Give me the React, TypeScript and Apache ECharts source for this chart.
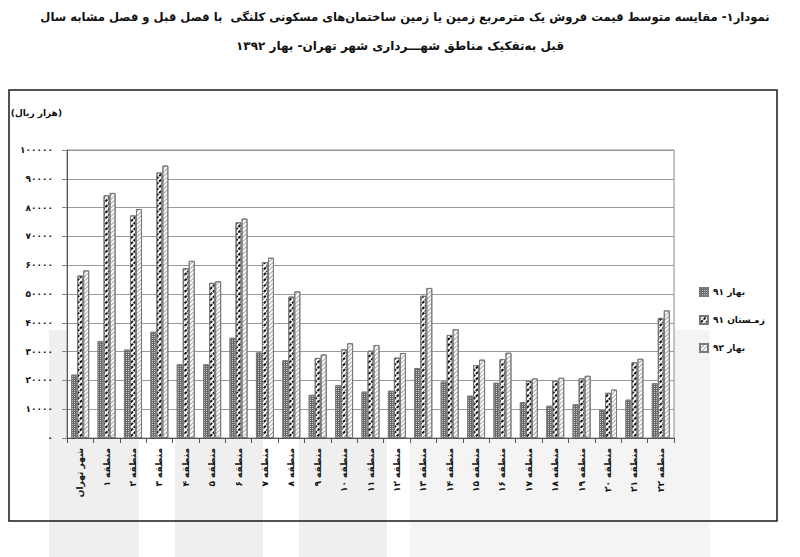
import React, { useEffect, useRef } from "react";
import * as echarts from "echarts";

const toFa = (v: string | number) =>
  String(v).replace(/\d/g, (d) => "۰۱۲۳۴۵۶۷۸۹"[Number(d)]);

const titleLine1 =
  "نمودار۱- مقایسه متوسط قیمت فروش یک مترمربع زمین یا زمین ساختمان‌های مسکونی کلنگی  با فصل قبل و فصل مشابه سال";
const titleLine2 = "قبل به‌تفکیک مناطق شهـــرداری شهر تهران- بهار ۱۳۹۲";
const unitLabel = "(هزار ریال)";

const categories = [
  "شهر تهران",
  ...Array.from({ length: 22 }, (_, i) => "منطقه " + toFa(i + 1)),
];

const seriesNames = ["بهار ۹۱", "زمـستان ۹۱", "بهار ۹۲"];

const spring91 = [
  22000, 33700, 30700, 36900, 25600, 25600, 34800, 29700, 27000, 15000, 18300,
  16100, 16400, 24300, 19600, 14700, 19200, 12400, 11200, 11700, 9700, 13300,
  19000,
];
const winter91 = [
  56400, 84300, 77300, 92200, 59000, 53900, 74900, 61100, 49100, 27800, 30800,
  30300, 27900, 49400, 35800, 25300, 27400, 19900, 19800, 20700, 15700, 26300,
  41700,
];
const spring92 = [
  58200, 85100, 79500, 94600, 61500, 54400, 76200, 62600, 50900, 29000, 32900,
  32300, 29500, 52100, 37800, 27200, 29600, 20700, 20900, 21600, 16800, 27500,
  44300,
];

const yMin = 0;
const yMax = 100000;
const yInterval = 10000;

const FONT = "DejaVu Sans";

export default function App() {
  const ref = useRef<HTMLDivElement>(null);
  useEffect(() => {
    if (!ref.current) return;
    const chart = echarts.init(ref.current, undefined, { renderer: "svg" });
    const border = { borderColor: "#7a7a7a", borderWidth: 1 };
    const bands = [
      [49, 90],
      [175, 88],
      [299, 88],
    ];
    chart.setOption({
      animation: false,
      backgroundColor: "#ffffff",
      graphic: [
        ...bands.map(([x, w]) => ({
          type: "rect",
          z: -10,
          shape: { x, y: 330, width: w, height: 227 },
          style: { fill: "#efefef" },
        })),
        {
          type: "rect",
          z: -10,
          shape: { x: 410, y: 330, width: 300, height: 227 },
          style: { fill: "#f4f4f4" },
        },
        {
          type: "rect",
          z: 50,
          shape: { x: 9, y: 90, width: 768, height: 431 },
          style: { fill: "none", stroke: "#1a1a1a", lineWidth: 1.5 },
        },
        {
          type: "text",
          x: 405,
          y: 17,
          style: {
            text: titleLine1,
            font: `bold 11.6px "${FONT}"`,
            fill: "#111",
            textAlign: "center",
            textVerticalAlign: "middle",
          },
        },
        {
          type: "text",
          x: 400,
          y: 46,
          style: {
            text: titleLine2,
            font: `bold 12px "${FONT}"`,
            fill: "#111",
            textAlign: "center",
            textVerticalAlign: "middle",
          },
        },
        {
          type: "text",
          x: 62,
          y: 113,
          style: {
            text: unitLabel,
            font: `bold 9px "${FONT}"`,
            fill: "#111",
            textAlign: "right",
            textVerticalAlign: "middle",
          },
        },
      ],
      grid: {
        left: 67,
        right: 126,
        top: 150,
        bottom: 119,
        show: true,
        backgroundColor: "#ffffff",
        borderColor: "#8a8a8a",
        borderWidth: 1,
      },
      legend: {
        orient: "vertical",
        left: 694,
        top: 282,
        itemWidth: 8,
        itemHeight: 8,
        itemGap: 18,
        itemTextGap: 4,
        icon: "rect",
        textStyle: { fontFamily: FONT, fontSize: 9, fontWeight: "bold", color: "#111" },
      },
      xAxis: {
        type: "category",
        data: categories,
        axisLine: { lineStyle: { color: "#555", width: 1 } },
        axisTick: { show: true, length: 5, lineStyle: { color: "#555" } },
        axisLabel: {
          rotate: 90,
          interval: 0,
          margin: 10,
          fontFamily: FONT,
          fontSize: 9,
          fontWeight: "bold",
          color: "#111",
        },
      },
      yAxis: {
        type: "value",
        min: yMin,
        max: yMax,
        interval: yInterval,
        axisLine: { show: true, lineStyle: { color: "#555" } },
        axisTick: { show: true, length: 5, lineStyle: { color: "#888" } },
        splitLine: { lineStyle: { color: "#9a9a9a", width: 1 } },
        axisLabel: {
          formatter: (v: number) => toFa(v),
          margin: 14,
          fontFamily: FONT,
          fontSize: 9,
          fontWeight: "bold",
          color: "#111",
        },
      },
      series: [
        {
          name: seriesNames[0],
          type: "bar",
          data: spring91,
          barWidth: 6,
          barGap: "0%",
          itemStyle: {
            color: "#666666",
            ...border,
            decal: {
              symbol: "rect",
              symbolSize: 1,
              color: "#cfcfcf",
              dashArrayX: [1, 1],
              dashArrayY: [1, 1],
              rotation: 0,
            },
          },
        },
        {
          name: seriesNames[1],
          type: "bar",
          data: winter91,
          barWidth: 6,
          barGap: "0%",
          itemStyle: {
            color: "#ffffff",
            ...border,
            decal: {
              symbol: "rect",
              symbolSize: 1,
              color: "#111111",
              dashArrayX: [3, 1],
              dashArrayY: [2, 2],
              rotation: -Math.PI / 4,
            },
          },
        },
        {
          name: seriesNames[2],
          type: "bar",
          data: spring92,
          barWidth: 6,
          barGap: "0%",
          itemStyle: {
            color: "#ffffff",
            ...border,
            decal: {
              symbol: "rect",
              symbolSize: 1,
              color: "#a8a8a8",
              dashArrayX: [1, 0],
              dashArrayY: [1, 2],
              rotation: -Math.PI / 4,
            },
          },
        },
      ],
    });
    return () => chart.dispose();
  }, []);
  return (
    <div
      ref={ref}
      style={{ position: "absolute", left: 0, top: 0, width: 800, height: 557 }}
    />
  );
}
